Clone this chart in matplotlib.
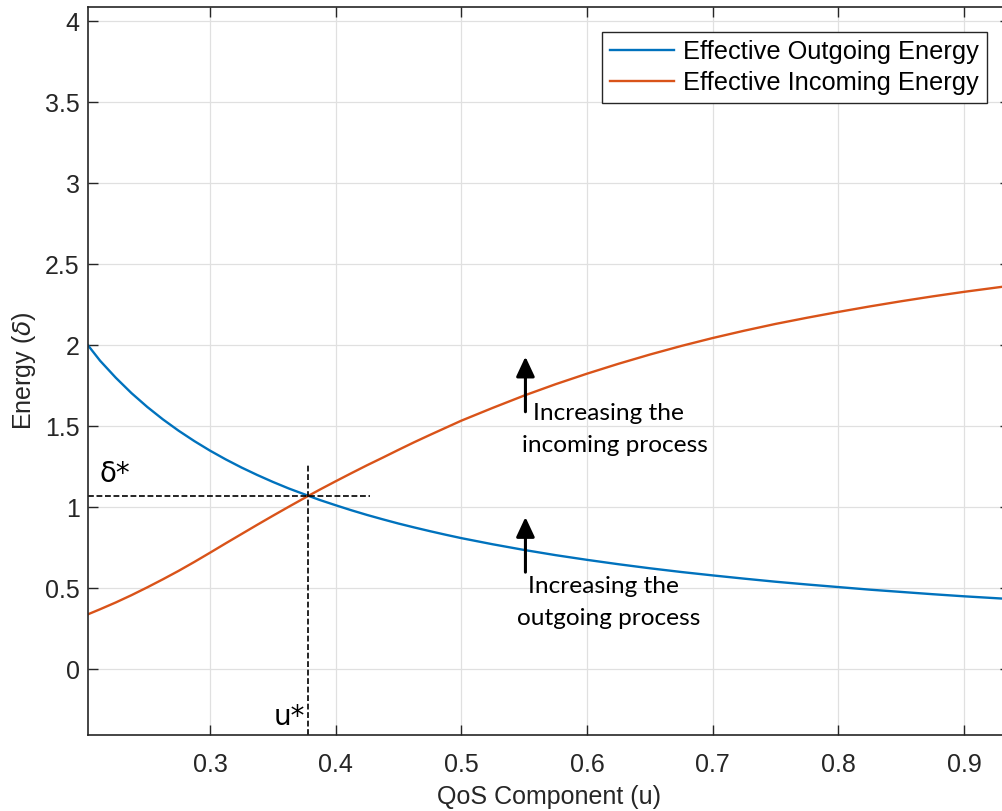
import numpy as np
import matplotlib.pyplot as plt

u = [0.2029, 0.2125, 0.225, 0.2375, 0.25, 0.2625, 0.275, 0.2875, 0.3, 0.3125,
     0.325, 0.3375, 0.35, 0.3625, 0.378, 0.3875, 0.4, 0.4125, 0.425, 0.4375,
     0.45, 0.4625, 0.475, 0.4875, 0.5, 0.525, 0.55, 0.575, 0.6, 0.625,
     0.65, 0.675, 0.7, 0.725, 0.75, 0.775, 0.8, 0.825, 0.85, 0.875,
     0.9, 0.937]

# Effective outgoing energy (blue)
outgoing = [2.0, 1.905, 1.80, 1.705, 1.62, 1.543, 1.473, 1.409, 1.35, 1.296,
            1.246, 1.20, 1.157, 1.117, 1.072, 1.045, 1.013, 0.982, 0.953, 0.926,
            0.90, 0.876, 0.853, 0.831, 0.81, 0.772, 0.737, 0.705, 0.676, 0.649,
            0.624, 0.601, 0.58, 0.56, 0.541, 0.524, 0.508, 0.492, 0.478, 0.464,
            0.451, 0.434]

# Effective incoming energy (orange)
incoming = [0.34, 0.371, 0.413, 0.458, 0.506, 0.556, 0.608, 0.663, 0.72, 0.778,
            0.835, 0.892, 0.948, 1.003, 1.07, 1.11, 1.161, 1.211, 1.26, 1.307,
            1.355, 1.402, 1.447, 1.491, 1.535, 1.614, 1.69, 1.76, 1.825, 1.886,
            1.943, 1.996, 2.045, 2.09, 2.132, 2.17, 2.206, 2.24, 2.272, 2.302,
            2.33, 2.368]

# Equilibrium point
u_star = 0.378
d_star = 1.072

xticks = [0.3, 0.4, 0.5, 0.6, 0.7, 0.8, 0.9]
yticks = [0, 0.5, 1, 1.5, 2, 2.5, 3, 3.5, 4]
ytick_labels = ['0', '0.5', '1', '1.5', '2', '2.5', '3', '3.5', '4']

plt.rcParams['font.family'] = ['Liberation Sans', 'DejaVu Sans']
dark = '#262626'

fig = plt.figure(figsize=(10.03, 8.11), dpi=100)
W, H = 1003, 811
ax = fig.add_axes([88 / W, 1 - 735 / H, (1010 - 88) / W, (735 - 7) / H])

ax.plot(u, outgoing, color='#0072BD', lw=1.7, label='Effective Outgoing Energy')
ax.plot(u, incoming, color='#D95319', lw=1.7, label='Effective Incoming Energy')

xmin, xmax = 0.2029, 0.9366
ymin, ymax = -0.405, 4.088

# dashed guide lines through the crossing point
ax.plot([xmin, 0.427], [d_star, d_star], color='black', lw=1.2, ls=(0, (3.5, 1.6)))
ax.plot([u_star, u_star], [ymin, 1.27], color='black', lw=1.2, ls=(0, (3.5, 1.6)))

ax.set_xlim(xmin, xmax)
ax.set_ylim(ymin, ymax)
ax.set_xticks(xticks)
ax.set_xticklabels([str(t) for t in xticks])
ax.set_yticks(yticks)
ax.set_yticklabels(ytick_labels)

ax.grid(True, color='#e0e0e0', lw=0.9)
ax.set_axisbelow(True)
ax.tick_params(direction='in', length=7, width=1.0, color=dark, labelcolor=dark,
               labelsize=18, top=True, right=True)
ax.tick_params(axis='x', pad=13)
ax.tick_params(axis='y', pad=6)
for s in ax.spines.values():
    s.set_color(dark)
    s.set_linewidth(1.2)

ax.set_xlabel('QoS Component (u)', fontsize=18, color=dark, labelpad=6)
ax.set_ylabel(r'Energy ($\delta$)', fontsize=18, color=dark, labelpad=5)

# annotations
note_font = ['Lato', 'DejaVu Sans']
star_font = ['DejaVu Sans']
ax.text(0.2117, 1.158, 'δ*', fontsize=20, family=star_font, ha='left', va='baseline')
ax.text(0.3756, -0.344, 'u*', fontsize=20, family=star_font, ha='right', va='baseline')

arrow = dict(arrowstyle='-|>,head_width=0.28,head_length=0.6', color='black',
             lw=2.2, shrinkA=0, shrinkB=0, mutation_scale=20)
ax.annotate('', xy=(0.551, 1.93), xytext=(0.551, 1.59), arrowprops=arrow)
ax.annotate('', xy=(0.551, 0.94), xytext=(0.551, 0.60), arrowprops=arrow)

ax.text(0.557, 1.54, 'Increasing the', fontsize=17.6, family=note_font, va='baseline')
ax.text(0.548, 1.343, 'incoming process', fontsize=17.6, family=note_font, va='baseline')
ax.text(0.5528, 0.469, 'Increasing the', fontsize=17.6, family=note_font, va='baseline')
ax.text(0.544, 0.273, 'outgoing process', fontsize=17.6, family=note_font, va='baseline')

leg = ax.legend(loc='upper right', bbox_to_anchor=(0.9747, 0.966), fontsize=18.3,
                handlelength=2.5, handletextpad=0.36, labelspacing=0.27,
                borderpad=0.32, borderaxespad=0, fancybox=False, framealpha=1)
leg.get_frame().set_edgecolor(dark)
leg.get_frame().set_linewidth(1.0)

fig.savefig('out.png', dpi=100)
